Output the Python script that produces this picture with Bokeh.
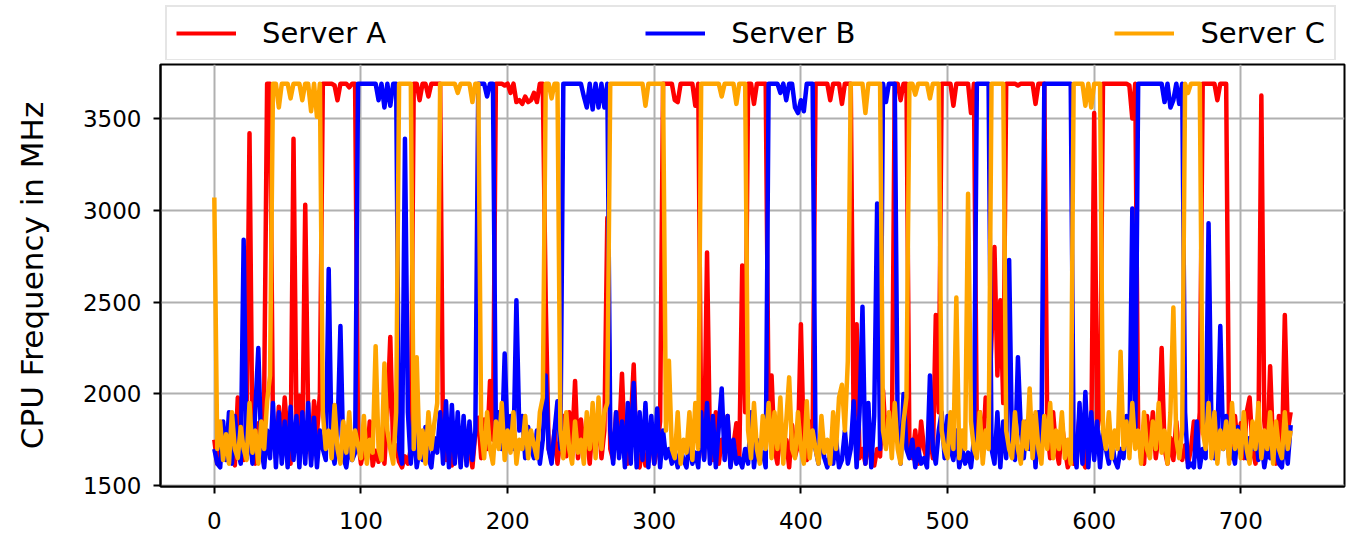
import numpy as np
from bokeh.plotting import figure
from bokeh.layouts import column
from bokeh.models import Range1d, Legend, LegendItem, FixedTicker
from bokeh.embed import file_html
from bokeh.resources import INLINE

# sample step of the time axis (seconds); one value every 2 steps
step = 2

server_a = [
    1750, 1620, 1690, 1810, 1640, 1700, 1880, 1610, 1980, 1720,   # 0
    1640, 1900, 3420, 1700, 1620, 1840, 1660, 1990, 3690, 3690,   # 20
    1800, 1650, 1930, 1700, 1980, 1760, 1620, 3390, 1850, 1990,   # 40
    1700, 3030, 1880, 1640, 1960, 1780, 2000, 3690, 3690, 3690,   # 60
    3690, 3680, 3600, 3690, 3690, 3690, 3670, 3690, 3690, 1750,   # 80
    1620, 1700, 1640, 1850, 1610, 1690, 1630, 1780, 1620, 1900,   # 100
    2310, 1680, 1720, 1630, 1600, 1660, 1620, 1700, 3690, 3690,   # 120
    3600, 3690, 3690, 3620, 3690, 3690, 3690, 3690, 1700, 1640,   # 140
    1820, 1610, 1680, 1760, 1620, 1850, 1640, 1710, 1600, 1790,   # 160
    1870, 1650, 1860, 1700, 2070, 1750, 3690, 3690, 3690, 3680,   # 180
    3690, 3640, 3690, 3590, 3600, 3580, 3620, 3590, 3600, 3640,   # 200
    3590, 3690, 3690, 2500, 1700, 1640, 1800, 1620, 1750, 1880,   # 220
    1660, 1900, 1720, 2070, 1650, 1860, 1700, 1780, 1620, 1840,   # 240
    1700, 1880, 1650, 1800, 2960, 1700, 1640, 1900, 1760, 2110,   # 260
    1680, 1620, 1840, 2160, 1640, 1600, 1720, 1610, 1650, 1780,   # 280
    1620, 1700, 1850, 3690, 3690, 3690, 3690, 3600, 3590, 3690,   # 300
    3690, 3690, 3690, 3690, 3570, 3690, 1800, 1650, 2770, 1700,   # 320
    1640, 1900, 1620, 1750, 1680, 1880, 1610, 1720, 1840, 1650,   # 340
    2700, 1900, 3690, 3690, 3580, 3690, 3690, 3690, 3690, 1900,   # 360
    2100, 1700, 1620, 1880, 1650, 1750, 1600, 1830, 1660, 1720,   # 380
    2380, 1700, 1640, 1850, 1750, 3690, 3690, 3690, 3690, 3690,   # 400
    3600, 3690, 3690, 3690, 3580, 3690, 3690, 3690, 1800, 2380,   # 420
    1650, 1700, 1620, 1760, 1640, 1610, 1700, 1660, 2020, 1750,   # 440
    1880, 1700, 3690, 3690, 3600, 3690, 3690, 1700, 1650, 1800,   # 460
    1620, 1850, 1700, 1640, 1780, 1650, 2430, 1900, 3690, 3690,   # 480
    3690, 3690, 3570, 3690, 3690, 3690, 3690, 3690, 3530, 3690,   # 500
    1750, 1900, 1660, 1980, 1880, 2300, 2800, 2100, 2510, 1950,   # 520
    3690, 3690, 3690, 3690, 3680, 3690, 3690, 3690, 3690, 3690,   # 540
    3580, 3690, 3690, 3690, 1800, 1650, 1900, 1700, 1620, 1840,   # 560
    1700, 1600, 1650, 1620, 1720, 1880, 1640, 1600, 1760, 1700,   # 580
    3530, 1800, 1900, 3690, 3690, 3690, 3690, 3690, 3690, 3690,   # 600
    3690, 3690, 3680, 3500, 3690, 1800, 1650, 1620, 1880, 1700,   # 620
    1900, 1650, 1780, 2250, 1700, 1620, 1760, 1640, 1850, 1680,   # 640
    1640, 1720, 1620, 1700, 1850, 1660, 1900, 3690, 3690, 3690,   # 660
    3690, 3690, 3600, 3690, 3690, 3690, 1750, 1650, 1880, 1700,   # 680
    1840, 1650, 1900, 1980, 1700, 1620, 1760, 3625, 1850, 1660,   # 700
    2150, 1700, 1620, 1880, 1650, 2430, 1800, 1900,               # 720
]

server_b = [
    1700, 1620, 1600, 1850, 1640, 1900, 1620, 1880, 1700, 1620,   # 0
    2840, 1650, 1800, 1620, 1920, 2250, 1700, 1600, 1800, 1650,   # 20
    1950, 1600, 1900, 1620, 1850, 1600, 1930, 1640, 1880, 1600,   # 40
    1900, 1620, 1950, 1610, 1870, 1600, 1800, 1700, 1640, 2680,   # 60
    1700, 1620, 1780, 2370, 1650, 1600, 1720, 1640, 1680, 3690,   # 80
    3690, 3690, 3690, 3690, 3690, 3690, 3600, 3690, 3560, 3690,   # 100
    3570, 3690, 3690, 1700, 1620, 3390, 1900, 1620, 1850, 1600,   # 120
    1700, 1640, 1820, 1650, 1600, 1760, 1680, 1900, 1620, 1960,   # 140
    1600, 1940, 1620, 1900, 1600, 1880, 1610, 1850, 1640, 1800,   # 160
    3690, 3690, 3690, 3620, 3690, 3690, 1800, 1900, 1700, 2220,   # 180
    1750, 1880, 1700, 2510, 1800, 1880, 1650, 1820, 1700, 1650,   # 200
    1800, 1620, 1750, 2100, 1700, 1620, 1800, 1960, 1700, 3690,   # 220
    3690, 3690, 3690, 3690, 3690, 3690, 3620, 3560, 3690, 3550,   # 240
    3690, 3560, 3690, 3560, 3690, 1800, 1620, 1900, 1650, 1850,   # 260
    1600, 1950, 1620, 2060, 1600, 1900, 1640, 1950, 1600, 1880,   # 280
    1620, 1920, 1600, 1800, 1650, 1700, 1620, 1680, 1600, 1700,   # 300
    1640, 1600, 1750, 1620, 1680, 1600, 1900, 1640, 1950, 1620,   # 320
    1880, 1600, 1820, 2030, 1640, 1880, 1600, 1750, 1620, 1650,   # 340
    1600, 1700, 1620, 1900, 1600, 1750, 1640, 1680, 1600, 3690,   # 360
    3690, 3690, 3690, 3640, 3690, 3600, 3690, 3690, 3560, 3530,   # 380
    3600, 3540, 3690, 3690, 3690, 1700, 1620, 1800, 1650, 1600,   # 400
    1680, 1620, 1750, 1600, 1640, 1800, 1620, 1700, 1960, 1600,   # 420
    1900, 2475, 1620, 1950, 1600, 1880, 3037, 1700, 3690, 3590,   # 440
    3690, 3690, 3690, 1800, 1620, 2000, 1700, 1650, 1750, 1600,   # 460
    1700, 1620, 1650, 1600, 2100, 1700, 1620, 1800, 1900, 1650,   # 480
    1880, 1700, 1640, 1800, 1600, 1700, 1620, 1680, 1600, 1750,   # 500
    3690, 3690, 3690, 3690, 3690, 1700, 1620, 1900, 1600, 1850,   # 520
    1650, 2730, 1700, 1640, 2200, 1800, 1650, 1850, 1700, 1880,   # 540
    1600, 1900, 1700, 3690, 3690, 3690, 3690, 3690, 3690, 3690,   # 560
    3690, 3690, 3690, 1700, 1600, 1950, 1620, 2010, 1600, 1900,   # 580
    1640, 1850, 1600, 1800, 1700, 1620, 1750, 1640, 1600, 1700,   # 600
    1650, 1880, 1700, 3010, 1750, 3690, 3690, 3690, 3690, 3690,   # 620
    3690, 3690, 3690, 3690, 3590, 3690, 3560, 3600, 3690, 3580,   # 640
    3690, 1900, 1600, 1620, 1600, 1850, 1600, 1700, 1650, 2930,   # 660
    1800, 1650, 1750, 2370, 1700, 1880, 1650, 1700, 1620, 1820,   # 680
    1700, 1800, 1650, 1760, 1700, 1820, 1640, 1750, 1600, 1700,   # 700
    1650, 1800, 1700, 1620, 1600, 1780, 1620, 1830,               # 720
]

server_c = [
    3070, 1700, 1850, 1640, 1780, 1620, 1900, 1700, 1650, 1820,   # 0
    1700, 1640, 1950, 1680, 1800, 1620, 1850, 1700, 1960, 2100,   # 20
    3690, 3690, 3560, 3690, 3690, 3690, 3610, 3690, 3690, 3690,   # 40
    3600, 3690, 3690, 3540, 3690, 3510, 3690, 1900, 1700, 1800,   # 60
    1650, 1940, 1700, 1620, 1850, 1680, 1900, 1640, 1800, 1720,   # 80
    1650, 1880, 1620, 1750, 1680, 2260, 1700, 1640, 2165, 1800,   # 100
    1700, 1620, 1900, 3690, 3690, 3690, 3690, 3690, 1700, 2200,   # 120
    1650, 1800, 1620, 1900, 1700, 1840, 1950, 3690, 3690, 3690,   # 140
    3690, 3690, 3690, 3640, 3690, 3690, 3690, 3690, 3590, 3690,   # 160
    3690, 1800, 1650, 1900, 1700, 1620, 1850, 1700, 1950, 1640,   # 180
    1800, 1680, 1900, 1620, 1750, 1700, 1880, 1650, 1800, 1720,   # 200
    1650, 1900, 1980, 3690, 3690, 3610, 3690, 3690, 1800, 1650,   # 220
    1900, 1700, 1620, 1850, 1680, 1750, 1620, 1900, 1700, 1950,   # 240
    1650, 1980, 1700, 1900, 1950, 3690, 3690, 3690, 3690, 3690,   # 260
    3690, 3690, 3690, 3690, 3690, 3690, 3690, 3570, 3690, 3690,   # 280
    3690, 3690, 3690, 3690, 1800, 2180, 1700, 1650, 1900, 1620,   # 300
    1750, 1680, 1900, 1640, 1950, 1700, 3690, 3690, 3690, 3690,   # 320
    3690, 3690, 3690, 3620, 3690, 3690, 3690, 3690, 3580, 3690,   # 340
    3690, 3690, 1800, 1650, 1950, 1700, 1620, 1880, 1700, 1950,   # 360
    1650, 1900, 1700, 1980, 1620, 1850, 2090, 1700, 1650, 1900,   # 380
    1700, 1620, 1960, 1650, 1800, 1700, 1620, 1880, 1680, 1750,   # 400
    1620, 1900, 1700, 1980, 2050, 1800, 2180, 3690, 3690, 3690,   # 420
    3690, 3690, 3530, 3690, 3690, 3690, 3690, 3690, 1800, 1700,   # 440
    1900, 1650, 1950, 1700, 1620, 1850, 1980, 3690, 3690, 3630,   # 460
    3690, 3690, 3690, 3690, 3610, 3690, 3690, 3690, 1800, 1700,   # 480
    1650, 1900, 1700, 2525, 1650, 1800, 1700, 3090, 1850, 1700,   # 500
    1650, 1900, 1620, 1800, 1700, 3690, 3690, 3690, 3690, 3690,   # 520
    1800, 1700, 1650, 1900, 1700, 1620, 1850, 1700, 2030, 1650,   # 540
    1900, 1700, 1620, 1880, 1700, 1950, 1650, 1800, 1700, 1900,   # 560
    1650, 1750, 1620, 3690, 3690, 3690, 3690, 3570, 3690, 3560,   # 580
    3690, 3690, 3690, 1800, 1700, 1900, 1650, 1800, 1700, 2230,   # 600
    1700, 1850, 1650, 1950, 1700, 1800, 1620, 1900, 1700, 1650,   # 620
    1850, 1700, 1950, 1680, 1800, 1620, 1900, 2470, 1750, 1650,   # 640
    1800, 3690, 3640, 3690, 3690, 3690, 3690, 1800, 1700, 1950,   # 660
    1650, 1900, 1620, 1800, 1700, 1850, 1620, 1950, 1700, 1800,   # 680
    1650, 1900, 1700, 1620, 1850, 1700, 1950, 1650, 1800, 1700,   # 700
    1900, 1620, 1850, 1700, 1650, 1900, 1700, 1800,               # 720
]

series_names = ["Server A", "Server B", "Server C"]
series_colors = ["#ff0000", "#0000ff", "#ffa500"]
y_ticks = [1500, 2000, 2500, 3000, 3500]
x_ticks = [0, 100, 200, 300, 400, 500, 600, 700]

FONT = "DejaVu Sans"
LEG_H = 60
LW = 4.5

all_series = [server_a, server_b, server_c]

# ---------------- main plot ----------------
p = figure(width=1350, height=534 - LEG_H, output_backend="svg", toolbar_location=None,
           x_range=Range1d(-36.7, 770.7), y_range=Range1d(1495.5, 3794.5),
           min_border_left=160, min_border_right=6, min_border_bottom=48,
           min_border_top=4)

for vals, col in zip(all_series, series_colors):
    xs = [i * step for i in range(len(vals))]
    p.line(xs, vals, line_color=col, line_width=LW, line_join="round")

p.background_fill_color = "white"
p.border_fill_color = "white"
p.outline_line_color = "black"
p.outline_line_width = 2

for ax in (p.xaxis[0], p.yaxis[0]):
    ax.axis_line_color = "black"
    ax.axis_line_width = 2
    ax.major_tick_line_width = 2
    ax.major_tick_out = 7
    ax.major_tick_in = 0
    ax.minor_tick_line_color = None
    ax.major_label_text_font = FONT
    ax.major_label_text_font_size = "23px"
    ax.major_label_text_color = "black"
    ax.major_label_standoff = 12
p.xaxis[0].major_label_standoff = 18

p.xaxis[0].ticker = FixedTicker(ticks=x_ticks)
p.yaxis[0].ticker = FixedTicker(ticks=y_ticks)
p.yaxis[0].axis_label = "CPU Frequency in MHz"
p.yaxis[0].axis_label_text_font = FONT
p.yaxis[0].axis_label_text_font_size = "31px"
p.yaxis[0].axis_label_text_font_style = "normal"
p.yaxis[0].axis_label_text_color = "black"
p.yaxis[0].axis_label_standoff = 30

p.xgrid.ticker = FixedTicker(ticks=x_ticks)
p.ygrid.ticker = FixedTicker(ticks=y_ticks)
p.grid.grid_line_color = "#b0b0b0"
p.grid.grid_line_width = 2

# ---------------- legend strip ----------------
# the strip shows the same three series, but its ranges keep them out of view:
# only their legend swatches are visible.
pl = figure(width=1350, height=LEG_H, output_backend="svg", toolbar_location=None,
            x_range=Range1d(0, 1), y_range=Range1d(0, 1),
            min_border_left=155, min_border_right=0, min_border_top=0, min_border_bottom=0,
            x_axis_location=None, y_axis_location=None)
pl.outline_line_color = None
pl.grid.visible = False
proxies = []
for vals, col in zip(all_series, series_colors):
    xs = [i * step for i in range(len(vals))]
    proxies.append(pl.line(xs, vals, line_color=col, line_width=4))

legend = Legend(
    items=[LegendItem(label=n, renderers=[r]) for n, r in zip(series_names, proxies)],
    orientation="horizontal", location="top_left",
    glyph_width=60, glyph_height=30, label_standoff=26, spacing=259,
    padding=9, margin=5,
    label_text_font=FONT, label_text_font_size="29px", label_text_color="black",
    border_line_color="#cccccc", border_line_width=2,
    background_fill_color="white", background_fill_alpha=1.0,
)
pl.add_layout(legend, "center")

layout = column(pl, p, spacing=0)
open("out.html", "w").write(file_html(layout, INLINE))
